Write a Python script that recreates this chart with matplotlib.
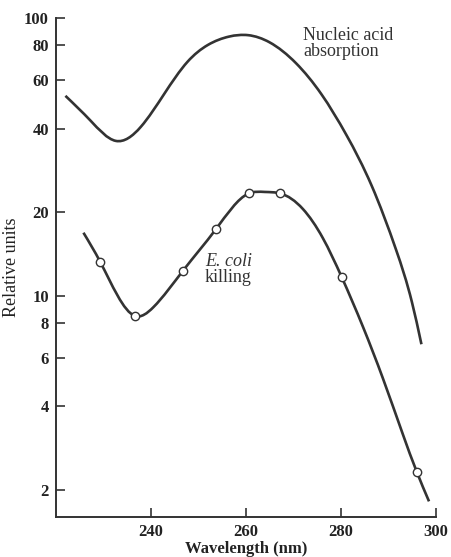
import matplotlib
matplotlib.use("Agg")
import numpy as np
import matplotlib.pyplot as plt
from matplotlib.path import Path
from matplotlib.patches import PathPatch
from matplotlib.ticker import FixedLocator, NullLocator, FixedFormatter

# Nucleic acid absorption curve
nucleic_wl = [222.0, 227.3, 232.6, 237.9, 242.8, 247.7, 252.0, 256.5, 260.5,
              265.0, 270.6, 275.9, 281.2, 286.5, 291.7, 295.0, 297.0]
nucleic_val = [52.6, 42.8, 36.2, 40.7, 53.4, 69.7, 80.2, 86.0, 87.0,
               82.0, 68.9, 53.4, 38.0, 25.0, 14.6, 9.5, 6.7]

# E. coli killing curve
ecoli_curve_wl = [225.8, 229.3, 236.7, 240.5, 246.8, 253.7, 260.6, 264.0, 267.3,
                  272.0, 276.2, 280.2, 284.7, 288.9, 293.1, 296.0, 298.6]
ecoli_curve_val = [16.9, 13.3, 8.47, 9.1, 12.35, 17.4, 23.4, 23.7, 23.4,
                   20.6, 16.2, 11.7, 7.73, 5.04, 3.17, 2.33, 1.82]

# E. coli killing measured points
ecoli_wl = [229.3, 236.7, 246.8, 253.7, 260.6, 267.3, 280.2, 296.0]
ecoli_val = [13.3, 8.47, 12.35, 17.4, 23.4, 23.4, 11.7, 2.33]

x_ticks = [240, 260, 280, 300]
y_ticks = [2, 4, 6, 8, 10, 20, 40, 60, 80, 100]
y_ticklabels = ["2", "4", "6", "8", "10", "20", "40", "60", "80", "100"]

plt.rcParams['font.family'] = ['Liberation Serif', 'DejaVu Serif']

W, H = 451, 557
fig = plt.figure(figsize=(W / 100, H / 100), dpi=100)
ax = fig.add_axes([0.124, 0.072, 0.842, 0.895])

col = '#333333'


def smooth_path(xs, ys):
    """Bezier path through the read points (natural cubic spline slopes, log y)."""
    x = np.asarray(xs, float)
    y = np.log10(np.asarray(ys, float))
    n = len(x)
    h = np.diff(x)
    A = np.zeros((n, n))
    b = np.zeros(n)
    A[0, 0] = A[-1, -1] = 1.0
    for i in range(1, n - 1):
        A[i, i - 1] = h[i - 1]
        A[i, i] = 2 * (h[i - 1] + h[i])
        A[i, i + 1] = h[i]
        b[i] = 6 * ((y[i + 1] - y[i]) / h[i] - (y[i] - y[i - 1]) / h[i - 1])
    M = np.linalg.solve(A, b)
    m = np.zeros(n)
    for i in range(n - 1):
        m[i] = (y[i + 1] - y[i]) / h[i] - h[i] * (2 * M[i] + M[i + 1]) / 6
    m[-1] = (y[-1] - y[-2]) / h[-1] + h[-1] * (M[-2] + 2 * M[-1]) / 6
    verts = [(x[0], y[0])]
    codes = [Path.MOVETO]
    for i in range(n - 1):
        verts += [(x[i] + h[i] / 3, y[i] + m[i] * h[i] / 3),
                  (x[i + 1] - h[i] / 3, y[i + 1] - m[i + 1] * h[i] / 3),
                  (x[i + 1], y[i + 1])]
        codes += [Path.CURVE4] * 3
    V = np.array(verts)
    V[:, 1] = 10 ** V[:, 1]
    return Path(V, codes)


for xs, ys in [(nucleic_wl, nucleic_val), (ecoli_curve_wl, ecoli_curve_val)]:
    patch = PathPatch(smooth_path(xs, ys), facecolor='none', edgecolor=col,
                      lw=1.9, capstyle='butt', transform=ax.transData)
    ax.add_patch(patch)

ax.plot(ecoli_wl, ecoli_val, linestyle='none', marker='o', ms=6,
        mfc='white', mec=col, mew=1.0, zorder=5)

ax.set_yscale('log')
ax.set_xlim(220, 300)
ax.set_ylim(1.6, 100)
ax.yaxis.set_major_locator(FixedLocator(y_ticks))
ax.yaxis.set_major_formatter(FixedFormatter(y_ticklabels))
ax.yaxis.set_minor_locator(NullLocator())
ax.set_xticks(x_ticks)

for s in ['top', 'right']:
    ax.spines[s].set_visible(False)
for s in ['left', 'bottom']:
    ax.spines[s].set_linewidth(1.4)
    ax.spines[s].set_color(col)

ax.tick_params(direction='in', length=6.5, width=1.2, colors=col,
               labelsize=12, labelcolor='#222222')
ax.tick_params(axis='y', pad=5)
ax.tick_params(axis='x', pad=5)
for lab in ax.get_xticklabels() + ax.get_yticklabels():
    lab.set_fontweight('bold')

ax.set_xlabel('Wavelength (nm)', fontsize=12, fontweight='bold', color='#222222', labelpad=1)
ax.set_ylabel('Relative units', fontsize=13, color='#222222', labelpad=3)


def fy(py):
    return 1 - py / H


fig.text(303 / W, fy(40), 'Nucleic acid', fontsize=13, color=col, va='baseline', ha='left')
fig.text(303 / W, fy(56), 'absorption', fontsize=13, color=col, va='baseline', ha='left')
fig.text(205 / W, fy(265.5), 'E. coli', fontsize=13, style='italic', color=col,
         va='baseline', ha='left')
fig.text(205 / W, fy(282), 'killing', fontsize=13, color=col, va='baseline', ha='left')

fig.savefig('out.png', dpi=100)
